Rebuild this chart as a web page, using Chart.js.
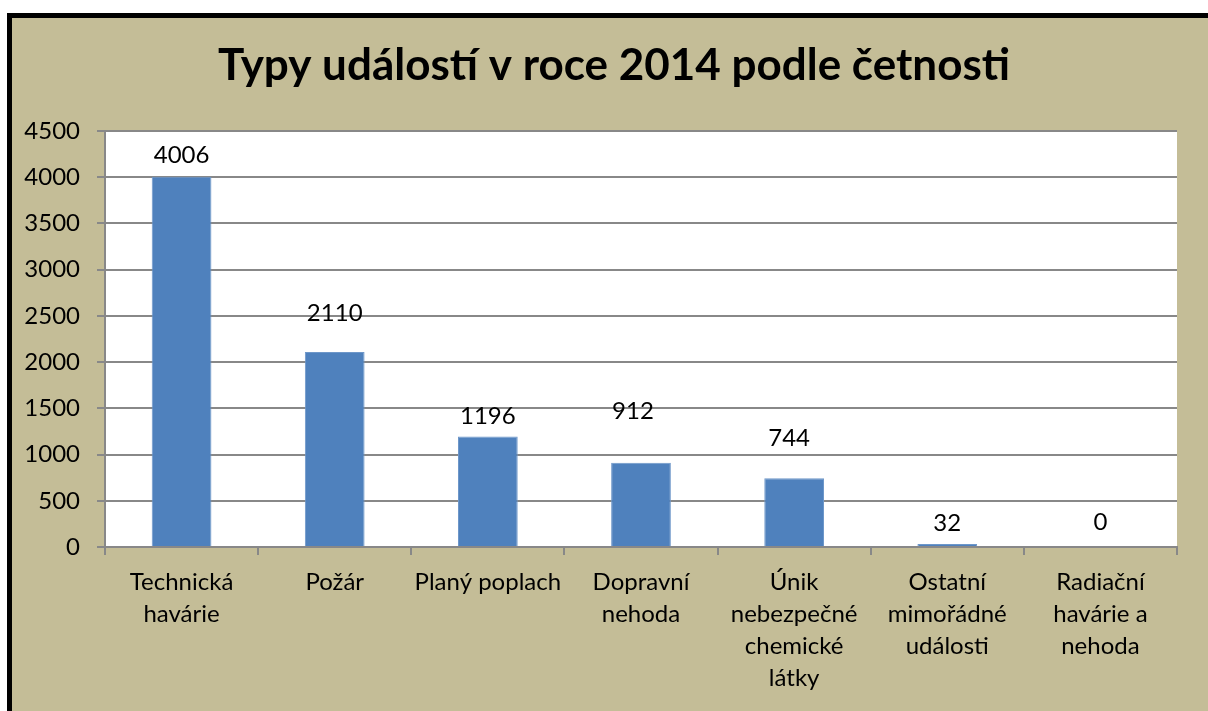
<!DOCTYPE html>
<html lang="cs">
<head>
<meta charset="utf-8">
<title>Typy událostí v roce 2014 podle četnosti</title>
<script src="https://cdn.jsdelivr.net/npm/chart.js@4"></script>
<style>
  html, body { margin: 0; padding: 0; background: #fff; overflow: hidden; }
  #ramecek {
    position: absolute; left: 7px; top: 13px; width: 1300px; height: 800px;
    border: 5px solid #000; background: #C4BD97;
  }
  #obal { position: absolute; left: 0; top: 0; width: 1208px; height: 711px; }
</style>
</head>
<body>
<div id="ramecek"></div>
<div id="obal"><canvas id="graf"></canvas></div>
<script>
const kategorie = [
  ["Technická", "havárie"],
  ["Požár"],
  ["Planý poplach"],
  ["Dopravní", "nehoda"],
  ["Únik", "nebezpečné", "chemické", "látky"],
  ["Ostatní", "mimořádné", "události"],
  ["Radiační", "havárie a", "nehoda"]
]
const pocty = [4006, 2110, 1196, 912, 744, 32, 0]
const titulek = "Typy událostí v roce 2014 podle četnosti"

// posun popisku nad sloupcem (jak je rucne posunuty v Excelu)
const zdvihPopisku = [21, 39, 20, 51, 40, 21, 25]
const posunPopiskuX = [0, 0, 0, -8, -5, 0, 0]

const pismo = "Lato, 'Open Sans', sans-serif"
Chart.defaults.color = "#000"
Chart.defaults.font.family = pismo

const bilaPlocha = {
  id: "bilaPlocha",
  beforeDraw(chart) {
    const { ctx, chartArea } = chart
    ctx.save()
    ctx.fillStyle = "#fff"
    ctx.fillRect(chartArea.left, chartArea.top, chartArea.right - chartArea.left, chartArea.bottom - chartArea.top)
    ctx.restore()
  }
}

// titulek je v Excelu vycentrovany na cely ramecek, ne na graf
const nadpis = {
  id: "nadpis",
  afterDraw(chart) {
    const { ctx } = chart
    ctx.save()
    ctx.font = "bold 44px " + pismo
    ctx.fillStyle = "#000"
    ctx.textAlign = "center"
    ctx.textBaseline = "middle"
    ctx.fillText(titulek, 614, 66)
    ctx.restore()
  }
}

const popiskyHodnot = {
  id: "popiskyHodnot",
  afterDatasetsDraw(chart) {
    const { ctx } = chart
    const meta = chart.getDatasetMeta(0)
    ctx.save()
    ctx.font = "24px " + pismo
    ctx.fillStyle = "#000"
    ctx.textAlign = "center"
    ctx.textBaseline = "middle"
    meta.data.forEach((bar, i) => {
      ctx.fillText(String(pocty[i]), bar.x + posunPopiskuX[i], bar.y - zdvihPopisku[i])
    })
    ctx.restore()
  }
}

new Chart(document.querySelector("#graf"), {
  type: "bar",
  data: {
    labels: kategorie,
    datasets: [{
      data: pocty,
      backgroundColor: "#4F81BD",
      borderColor: "#6E97C9",
      borderWidth: 1,
      categoryPercentage: 1,
      barPercentage: 0.39
    }]
  },
  options: {
    responsive: true,
    maintainAspectRatio: false,
    animation: false,
    layout: { padding: { left: 0, right: 31, top: 131, bottom: 0 } },
    plugins: {
      legend: { display: false },
      tooltip: { enabled: false },
      title: { display: false }
    },
    scales: {
      x: {
        afterFit(scale) { scale.height = 164 },
        grid: { display: true, drawOnChartArea: false, drawTicks: true, tickLength: 8, color: "#888", lineWidth: 2 },
        border: { display: true, color: "#888", width: 2 },
        ticks: { font: { size: 24, lineHeight: 32 / 24 }, padding: 11, maxRotation: 0, minRotation: 0, autoSkip: false, color: "#000" }
      },
      y: {
        min: 0,
        max: 4500,
        afterFit(scale) { scale.width = 105 },
        grid: { color: "#888", lineWidth: 2, tickLength: 8 },
        border: { display: true, color: "#888", width: 2 },
        ticks: { stepSize: 500, font: { size: 24 }, padding: 17, color: "#000", callback: (v) => String(v) }
      }
    }
  },
  plugins: [bilaPlocha, popiskyHodnot, nadpis]
})
</script>
</body>
</html>
